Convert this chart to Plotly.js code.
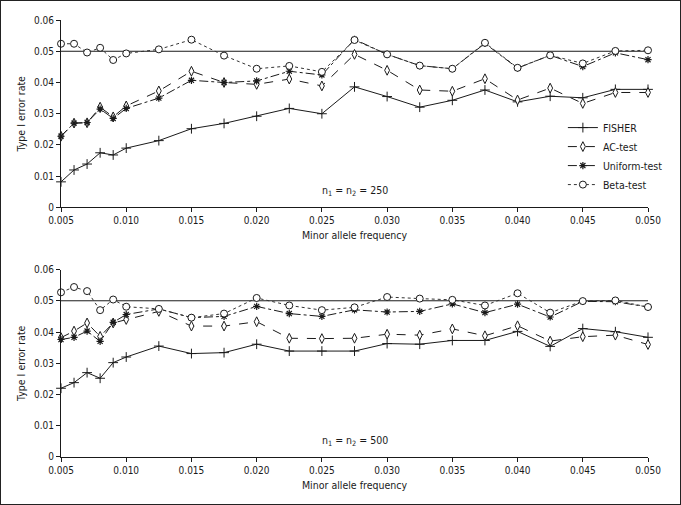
<!DOCTYPE html>
<html>
<head>
<meta charset="utf-8">
<script src="https://cdn.plot.ly/plotly-3.0.1.min.js"></script>
<style>
html,body{margin:0;padding:0;background:#fff;}
#chart{width:681px;height:505px;box-sizing:border-box;border:1px solid #222;}
</style>
</head>
<body>
<div id="chart"></div>
<script>
// Minor allele frequencies (x)
const maf = [0.005, 0.006, 0.007, 0.008, 0.009, 0.010, 0.0125, 0.015, 0.0175, 0.020, 0.0225,
             0.025, 0.0275, 0.030, 0.0325, 0.035, 0.0375, 0.040, 0.0425, 0.045, 0.0475, 0.050];
const xTicks = [0.005, 0.010, 0.015, 0.020, 0.025, 0.030, 0.035, 0.040, 0.045, 0.050];
const xTickLabels = ["0.005","0.010","0.015","0.020","0.025","0.030","0.035","0.040","0.045","0.050"];
const alpha = 0.05;

// Panel 1: n1 = n2 = 250
const fisher250  = [0.0082, 0.0120, 0.0139, 0.0175, 0.0168, 0.0190, 0.0214, 0.0252, 0.0269, 0.0292, 0.0317,
                    0.0300, 0.0386, 0.0355, 0.0321, 0.0343, 0.0376, 0.0338, 0.0356, 0.0351, 0.0378, 0.0378];
const ac250      = [0.0228, 0.0270, 0.0271, 0.0321, 0.0290, 0.0325, 0.0373, 0.0436, 0.0400, 0.0394, 0.0411,
                    0.0389, 0.0490, 0.0439, 0.0376, 0.0372, 0.0412, 0.0344, 0.0382, 0.0333, 0.0368, 0.0368];
const uniform250 = [0.0228, 0.0270, 0.0272, 0.0315, 0.0285, 0.0317, 0.0350, 0.0407, 0.0400, 0.0405, 0.0436,
                    0.0424, 0.0538, 0.0490, 0.0454, 0.0444, 0.0525, 0.0446, 0.0487, 0.0451, 0.0495, 0.0473];
const beta250    = [0.0524, 0.0524, 0.0496, 0.0511, 0.0472, 0.0493, 0.0506, 0.0537, 0.0486, 0.0444, 0.0453,
                    0.0434, 0.0536, 0.0490, 0.0454, 0.0444, 0.0527, 0.0447, 0.0487, 0.0461, 0.0501, 0.0503];

// Panel 2: n1 = n2 = 500
const fisher500  = [0.0220, 0.0238, 0.0270, 0.0252, 0.0302, 0.0320, 0.0355, 0.0331, 0.0334, 0.0361, 0.0339,
                    0.0339, 0.0339, 0.0363, 0.0361, 0.0373, 0.0373, 0.0402, 0.0354, 0.0411, 0.0401, 0.0383];
const ac500      = [0.0382, 0.0403, 0.0429, 0.0386, 0.0429, 0.0440, 0.0466, 0.0419, 0.0419, 0.0433, 0.0380,
                    0.0379, 0.0380, 0.0393, 0.0390, 0.0410, 0.0388, 0.0420, 0.0371, 0.0385, 0.0390, 0.0360];
const uniform500 = [0.0376, 0.0383, 0.0403, 0.0370, 0.0431, 0.0456, 0.0474, 0.0446, 0.0450, 0.0482, 0.0459,
                    0.0450, 0.0471, 0.0464, 0.0466, 0.0490, 0.0462, 0.0489, 0.0448, 0.0498, 0.0497, 0.0480];
const beta500    = [0.0527, 0.0544, 0.0531, 0.0470, 0.0504, 0.0481, 0.0474, 0.0446, 0.0459, 0.0509, 0.0485,
                    0.0470, 0.0479, 0.0512, 0.0507, 0.0503, 0.0485, 0.0524, 0.0462, 0.0499, 0.0501, 0.0480];

const seriesNames = ["FISHER", "AC-test", "Uniform-test", "Beta-test"];
const panelLabels = ["n<sub>1</sub> = n<sub>2</sub> = 250", "n<sub>1</sub> = n<sub>2</sub> = 500"];

const FONT = '"Liberation Sans Narrow", "Arial Narrow", "DejaVu Sans Condensed", sans-serif';
const INK = '#1a1a1a';

const styles = [
  {line:{color:INK, width:1, dash:'solid'}, marker:{symbol:'cross-thin-open', size:7, color:INK, line:{color:INK, width:1}}},
  {line:{color:INK, width:1, dash:'dash'}, marker:{symbol:'diamond-tall', size:7, color:'#fff', line:{color:INK, width:1}}},
  {line:{color:INK, width:1, dash:'dashdot'}, marker:{symbol:'asterisk-open', size:6, color:INK, line:{color:INK, width:1.2}}},
  {line:{color:'#333', width:1, dash:'dot'}, marker:{symbol:'circle', size:7, color:'#fff', line:{color:INK, width:1}}}
];

const panels = [
  [fisher250, ac250, uniform250, beta250],
  [fisher500, ac500, uniform500, beta500]
];

const traces = [];
panels.forEach((set, p) => {
  set.forEach((vals, i) => {
    traces.push({
      type:'scatter', mode:'lines+markers',
      x: maf, y: vals,
      name: seriesNames[i],
      legendgroup: seriesNames[i],
      showlegend: p === 0,
      xaxis: p === 0 ? 'x' : 'x2',
      yaxis: p === 0 ? 'y' : 'y2',
      line: styles[i].line,
      marker: styles[i].marker,
      cliponaxis: false
    });
  });
});

function xAxis(anchor){
  return {
    anchor: anchor, range:[0.005, 0.050], tickvals: xTicks, ticktext: xTickLabels,
    showline:true, linecolor:INK, linewidth:1, ticks:'outside', ticklen:4, tickcolor:INK,
    showgrid:false, zeroline:false,
    tickfont:{family:FONT, size:10, color:INK},
    title:{text:'Minor allele frequency', font:{family:FONT, size:10.5, color:INK}, standoff:6}
  };
}
function yAxis(anchor, domain){
  return {
    anchor: anchor, domain: domain, range:[0, 0.06], dtick:0.01, tick0:0,
    showline:true, linecolor:INK, linewidth:1, ticks:'outside', ticklen:4, tickcolor:INK,
    showgrid:false, zeroline:false,
    tickfont:{family:FONT, size:10, color:INK},
    title:{text:'Type I error rate', font:{family:FONT, size:10.5, color:INK}, standoff:6}
  };
}

const layout = {
  width:679, height:503,
  margin:{l:60, r:29, t:19, b:47},
  paper_bgcolor:'#fff', plot_bgcolor:'#fff',
  font:{family:FONT, color:INK},
  xaxis: xAxis('y'),
  yaxis: yAxis('x', [0.571, 1]),
  xaxis2: xAxis('y2'),
  yaxis2: yAxis('x2', [0, 0.429]),
  showlegend:true,
  legend:{x:0.855, y:0.787, xanchor:'left', yanchor:'top', bgcolor:'rgba(0,0,0,0)',
          font:{family:FONT, size:10.5, color:INK}, tracegroupgap:0, itemwidth:30},
  shapes:[
    {type:'line', xref:'x', yref:'y', x0:0.005, x1:0.050, y0:alpha, y1:alpha, line:{color:INK, width:1}, layer:'below'},
    {type:'line', xref:'x2', yref:'y2', x0:0.005, x1:0.050, y0:alpha, y1:alpha, line:{color:INK, width:1}, layer:'below'}
  ],
  annotations:[
    {xref:'x', yref:'y', x:0.0275, y:0.0052, text:panelLabels[0], showarrow:false, font:{family:FONT, size:10.5, color:INK}},
    {xref:'x2', yref:'y2', x:0.0275, y:0.0052, text:panelLabels[1], showarrow:false, font:{family:FONT, size:10.5, color:INK}}
  ]
};

Plotly.newPlot('chart', traces, layout, {displayModeBar:false, staticPlot:true});
</script>
</body>
</html>
